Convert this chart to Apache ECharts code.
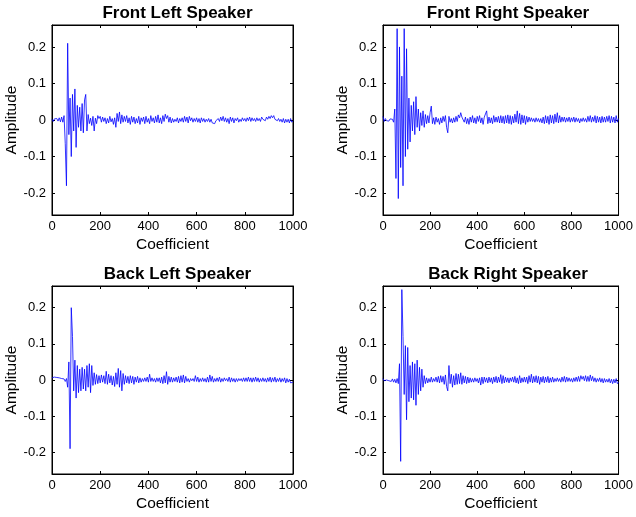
<!DOCTYPE html>
<html>
<head>
<meta charset="utf-8">
<script src="https://cdn.jsdelivr.net/npm/echarts@6/dist/echarts.min.js"></script>
<style>
  html, body { margin: 0; padding: 0; background: #fff; }
  #chart { width: 636px; height: 517px; }
</style>
</head>
<body>
<div id="chart"></div>
<script>
// coefficient index of every value below (one value per 5 coefficients)
var step = 5;
var titles = ['Front Left Speaker', 'Front Right Speaker', 'Back Left Speaker', 'Back Right Speaker'];
var xTicks = [0, 200, 400, 600, 800, 1000];
var yTicks = [-0.2, -0.1, 0, 0.1, 0.2];

var frontLeft = [
  0.002, -0.004, 0.003, -0.002, 0.004, -0.003, 0.006, -0.005, 0.008, -0.006,
  0.012, -0.065, -0.18, 0.21, -0.04, 0.06, -0.10, 0.07, -0.03, 0.085,
  -0.075, 0.04, -0.02, 0.035, -0.03, 0.045, -0.035, 0.055, 0.07, -0.03,
  0.015, -0.01, 0.005, -0.015, 0.01, -0.03, 0.005, -0.01, 0.012, 0.004,
  0.01, -0.006, 0.008, -0.004, 0.006, -0.01, 0.004, -0.008, 0.01, -0.005,
  0.004, -0.012, 0.006, -0.02, 0.018, -0.004, 0.022, -0.01, 0.014, -0.006,
  0.01, -0.004, 0.012, -0.008, 0.006, -0.012, 0.01, -0.006, 0.008, -0.01,
  0.004, -0.008, 0.01, -0.012, 0.006, -0.004, 0.008, -0.01, 0.01, -0.006,
  0.004, -0.01, 0.012, -0.004, 0.006, -0.008, 0.01, -0.006, 0.014, -0.008,
  0.006, -0.01, 0.012, -0.004, 0.016, 0.004, 0.012, -0.006, 0.008, -0.008,
  0.004, -0.006, 0.002, -0.004, 0.006, -0.008, 0.004, -0.004, 0.006, -0.006,
  0.01, -0.004, 0.008, -0.008, 0.01, -0.002, 0.006, -0.006, 0.004, -0.004,
  0.006, -0.006, 0.004, -0.008, 0.006, -0.004, 0.004, -0.006, 0.002, -0.004,
  0.004, -0.006, 0.002, -0.008, -0.004, -0.01, -0.002, -0.006, 0.004, -0.004,
  0.008, -0.002, 0.01, -0.004, 0.006, -0.006, 0.004, -0.01, 0.008, -0.004,
  0.006, -0.008, 0.004, -0.002, 0.006, -0.006, 0.002, -0.004, 0.006, -0.002,
  0.004, -0.004, 0.006, -0.002, 0.008, -0.004, 0.006, -0.002, 0.004, -0.004,
  0.006, -0.002, 0.004, -0.004, 0.008, 0.002, 0.006, -0.002, 0.008, 0.002,
  0.01, 0.004, 0.012, 0.006, 0.012, 0.002, 0.006, -0.002, 0.004, -0.004,
  0.002, -0.006, 0.004, -0.008, 0.002, -0.006, 0.002, -0.008, 0.004, -0.006,
  -0.002
];

var frontRight = [
  0.01, -0.004, 0.004, -0.002, 0.002, -0.003, 0.003, -0.002, 0.002, -0.006,
  0.03, -0.16, 0.25, -0.215, 0.2, -0.13, 0.12, -0.18, 0.25, -0.1,
  0.195, -0.08, 0.06, -0.06, 0.04, -0.03, 0.05, -0.04, 0.064, -0.02,
  0.03, -0.03, 0.02, -0.015, 0.025, -0.02, 0.015, -0.01, 0.012, -0.008,
  0.02, 0.038, -0.01, 0.006, -0.012, 0.008, -0.006, 0.004, -0.012, 0.006,
  -0.008, 0.01, -0.004, 0.012, -0.02, -0.035, 0.01, -0.006, 0.004, -0.008,
  0.006, -0.006, 0.01, -0.004, 0.014, 0.006, 0.02, 0.008, 0.012, -0.006,
  0.008, -0.01, 0.004, -0.012, 0.008, -0.006, 0.012, -0.008, 0.006, -0.01,
  0.01, -0.004, 0.012, -0.008, 0.006, -0.012, 0.008, 0.004, 0.025, -0.01,
  0.008, -0.008, 0.006, -0.01, 0.012, -0.006, 0.008, -0.006, 0.01, -0.008,
  0.012, -0.008, 0.01, -0.01, 0.012, -0.008, 0.014, -0.01, 0.012, -0.012,
  0.01, -0.008, 0.016, -0.006, 0.025, -0.01, 0.018, -0.012, 0.014, -0.008,
  0.012, -0.012, 0.01, -0.006, 0.008, -0.004, 0.006, -0.004, 0.004, -0.006,
  0.006, -0.004, 0.004, -0.006, 0.004, -0.008, 0.008, -0.01, 0.012, -0.008,
  0.01, -0.012, 0.014, -0.008, 0.012, -0.01, 0.016, -0.006, 0.02, -0.008,
  0.012, -0.006, 0.008, -0.004, 0.008, -0.006, 0.006, -0.004, 0.008, -0.006,
  0.006, -0.004, 0.008, -0.006, 0.006, -0.004, 0.004, -0.008, 0.004, -0.004,
  0.006, -0.004, 0.004, -0.006, 0.01, -0.004, 0.012, -0.006, 0.008, -0.004,
  0.012, -0.008, 0.01, -0.006, 0.008, -0.008, 0.01, -0.006, 0.008, -0.006,
  0.01, -0.004, 0.012, -0.008, 0.01, -0.006, 0.008, -0.008, 0.012, -0.006,
  0.004
];

var backLeft = [
  0.006, 0.004, 0.008, 0.005, 0.007, 0.003, 0.006, 0.002, 0.004, 0.0,
  0.003, -0.004, 0.004, -0.02, 0.05, -0.19, 0.2, 0.12, -0.03, 0.055,
  -0.05, 0.04, -0.035, 0.03, -0.03, 0.035, -0.025, 0.03, -0.03, 0.04,
  -0.02, 0.045, -0.035, 0.04, -0.015, 0.02, -0.012, 0.015, -0.01, 0.012,
  -0.008, 0.014, -0.006, 0.012, -0.01, 0.024, -0.012, 0.016, -0.008, 0.012,
  -0.014, 0.01, -0.018, 0.02, -0.012, 0.032, -0.02, 0.026, -0.03, 0.018,
  -0.012, 0.012, -0.008, 0.01, -0.01, 0.012, -0.008, 0.01, -0.012, 0.008,
  -0.006, 0.01, -0.008, 0.006, -0.006, 0.004, -0.004, 0.006, -0.004, 0.008,
  -0.006, 0.016, -0.004, 0.006, -0.004, 0.004, -0.006, 0.006, -0.004, 0.006,
  -0.008, 0.008, -0.01, 0.012, -0.008, 0.023, -0.012, 0.01, -0.006, 0.008,
  -0.006, 0.006, -0.004, 0.008, -0.006, 0.01, -0.008, 0.012, -0.006, 0.014,
  -0.008, 0.01, -0.004, 0.004, -0.006, 0.004, -0.002, 0.004, -0.004, 0.012,
  -0.004, 0.008, -0.006, 0.004, -0.004, 0.006, -0.004, 0.004, -0.006, 0.008,
  -0.006, 0.014, -0.004, 0.01, -0.006, 0.004, -0.004, 0.006, -0.004, 0.008,
  -0.006, 0.004, -0.004, 0.006, -0.002, 0.004, -0.004, 0.008, -0.006, 0.006,
  -0.004, 0.004, -0.006, 0.004, -0.004, 0.004, -0.002, 0.004, -0.004, 0.006,
  -0.004, 0.006, -0.004, 0.008, -0.004, 0.006, -0.006, 0.006, -0.004, 0.008,
  -0.004, 0.006, -0.006, 0.004, -0.004, 0.006, -0.004, 0.004, -0.006, 0.006,
  -0.004, 0.008, -0.006, 0.006, -0.004, 0.008, -0.006, 0.004, -0.004, 0.006,
  -0.006, 0.004, -0.004, 0.006, -0.008, 0.004, -0.006, 0.002, -0.008, -0.004,
  -0.006
];

var backRight = [
  0.004, -0.002, 0.003, 0.0, 0.004, -0.002, 0.002, -0.004, 0.003, -0.006,
  0.002, -0.008, 0.004, -0.01, 0.045, -0.225, 0.25, 0.12, -0.04, 0.095,
  -0.11, 0.09, -0.06, 0.04, -0.05, 0.05, -0.055, 0.045, -0.07, 0.055,
  -0.04, 0.035, -0.03, 0.03, -0.02, 0.012, -0.01, 0.006, -0.008, 0.004,
  -0.006, 0.008, -0.006, 0.004, -0.004, 0.008, -0.006, 0.01, -0.008, 0.012,
  -0.006, 0.01, -0.012, 0.014, -0.018, -0.03, 0.04, -0.01, 0.016, -0.02,
  0.012, -0.014, 0.018, -0.012, 0.016, -0.01, 0.02, -0.012, 0.012, -0.008,
  0.01, -0.01, 0.008, -0.008, 0.006, -0.006, 0.004, -0.006, 0.006, -0.004,
  0.004, -0.008, 0.006, -0.014, 0.008, -0.01, 0.008, -0.006, 0.006, -0.008,
  0.008, -0.006, 0.006, -0.01, 0.008, -0.006, 0.01, -0.008, 0.008, -0.006,
  0.015, -0.01, 0.012, -0.008, 0.008, -0.006, 0.006, -0.008, 0.006, -0.004,
  0.008, -0.006, 0.01, -0.008, 0.006, -0.01, 0.012, -0.008, 0.006, -0.006,
  0.008, -0.006, 0.008, -0.01, 0.012, -0.006, 0.016, -0.008, 0.01, -0.006,
  0.012, -0.008, 0.01, -0.012, 0.008, -0.006, 0.01, -0.008, 0.008, -0.006,
  0.01, -0.008, 0.006, -0.006, 0.008, -0.006, 0.004, -0.004, 0.006, -0.004,
  0.004, -0.006, 0.008, -0.004, 0.01, -0.006, 0.008, -0.004, 0.006, -0.004,
  0.004, -0.006, 0.006, -0.004, 0.008, -0.004, 0.01, -0.004, 0.012, 0.002,
  0.01, -0.002, 0.012, -0.004, 0.01, -0.004, 0.014, -0.002, 0.01, -0.004,
  0.006, -0.006, 0.004, -0.004, 0.006, -0.006, 0.004, -0.008, 0.004, -0.006,
  0.002, -0.006, 0.004, -0.008, 0.002, -0.01, 0.002, -0.008, 0.004, -0.01,
  -0.006
];

var allData = [frontLeft, frontRight, backLeft, backRight];

var chart = echarts.init(document.getElementById('chart'));
var font = 'Liberation Sans, Arial, sans-serif';

// plot boxes
var boxes = [
  { left: 52, top: 25, width: 241, height: 190 },
  { left: 383, top: 25, width: 240, height: 190 },
  { left: 52, top: 286, width: 241, height: 188 },
  { left: 383, top: 286, width: 240, height: 188 }
];

var option = {
  animation: false,
  backgroundColor: '#fff',
  title: [],
  grid: [],
  xAxis: [],
  yAxis: [],
  series: []
};

boxes.forEach(function (b, i) {
  option.title.push({
    text: titles[i],
    left: b.left + b.width / 2,
    top: b.top - 25,
    textAlign: 'center',
    textStyle: { fontFamily: font, fontSize: 17, fontWeight: 'bold', color: '#000' }
  });
  option.grid.push({
    left: b.left, top: b.top, width: b.width, height: b.height,
    show: true, borderColor: '#000', borderWidth: 1, backgroundColor: '#fff'
  });
  // bottom x axis
  option.xAxis.push({
    type: 'value', gridIndex: i, min: 0, max: 1000,
    position: 'bottom',
    name: 'Coefficient', nameLocation: 'middle', nameGap: 22,
    nameTextStyle: { fontFamily: font, fontSize: 15.5, color: '#000' },
    axisLine: { onZero: false, lineStyle: { color: '#000', width: 1 } },
    axisTick: { inside: true, length: 3, lineStyle: { color: '#000' }, customValues: xTicks },
    axisLabel: {
      margin: 5, fontFamily: font, fontSize: 13, color: '#000', customValues: xTicks,
      formatter: function (v) { return String(v); }
    },
    splitLine: { show: false }
  });
  // top mirror axis for the box ticks
  option.xAxis.push({
    type: 'value', gridIndex: i, min: 0, max: 1000,
    position: 'top',
    axisLine: { onZero: false, lineStyle: { color: '#000', width: 1 } },
    axisTick: { inside: true, length: 3, lineStyle: { color: '#000' }, customValues: xTicks },
    axisLabel: { show: false },
    splitLine: { show: false }
  });
  option.yAxis.push({
    type: 'value', gridIndex: i, min: -0.26, max: 0.26,
    position: 'left',
    name: 'Amplitude', nameLocation: 'middle', nameGap: 29,
    nameTextStyle: { fontFamily: font, fontSize: 15.5, color: '#000' },
    axisLine: { show: true, onZero: false, lineStyle: { color: '#000', width: 1 } },
    axisTick: { show: true, inside: true, length: 3, lineStyle: { color: '#000' }, customValues: yTicks },
    axisLabel: { margin: 6, fontFamily: font, fontSize: 13, color: '#000', customValues: yTicks },
    splitLine: { show: false }
  });
  option.yAxis.push({
    type: 'value', gridIndex: i, min: -0.26, max: 0.26,
    position: 'right',
    axisLine: { show: true, onZero: false, lineStyle: { color: '#000', width: 1 } },
    axisTick: { show: true, inside: true, length: 3, lineStyle: { color: '#000' }, customValues: yTicks },
    axisLabel: { show: false },
    splitLine: { show: false }
  });
  option.series.push({
    type: 'line',
    xAxisIndex: i * 2,
    yAxisIndex: i * 2,
    data: allData[i].map(function (v, k) { return [k * step, v]; }),
    showSymbol: false,
    lineStyle: { color: '#0000ff', width: 0.8 },
    silent: true
  });
});

chart.setOption(option);
</script>
</body>
</html>
